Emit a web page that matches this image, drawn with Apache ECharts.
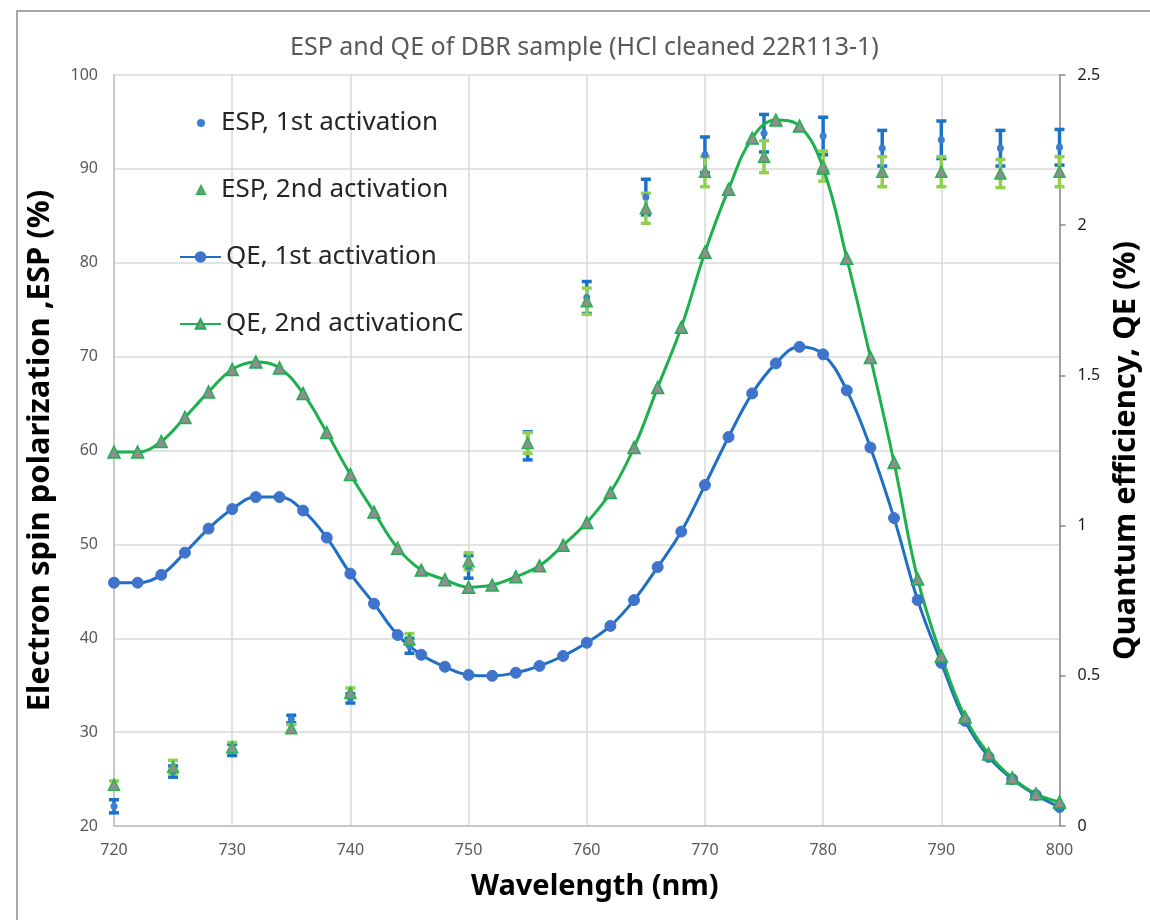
<!DOCTYPE html>
<html>
<head>
<meta charset="utf-8">
<script src="https://cdn.jsdelivr.net/npm/echarts@6/dist/echarts.min.js"></script>
<style>html,body{margin:0;padding:0;background:#fff}#c{width:1150px;height:920px}</style>
</head>
<body>
<div id="c"></div>
<script>
// ESP wavelengths (nm)
var espWl = [720, 725, 730, 735, 740, 745, 750, 755, 760, 765, 770, 775, 780, 785, 790, 795, 800];
var esp1 = [22.1, 25.8, 28.1, 31.4, 33.6, 39.2, 47.6, 60.5, 76.3, 87.0, 91.5, 93.8, 93.5, 92.2, 93.1, 92.2, 92.3];
var esp1Err = [0.7, 0.6, 0.6, 0.4, 0.5, 0.8, 1.2, 1.5, 1.7, 1.9, 1.9, 2.0, 2.0, 1.9, 2.0, 1.9, 1.9];
var esp2 = [24.4, 26.3, 28.4, 30.4, 34.2, 39.9, 48.2, 60.8, 75.9, 85.8, 89.7, 91.3, 90.3, 89.7, 89.7, 89.5, 89.7];
var esp2Err = [0.4, 0.7, 0.5, 0.4, 0.5, 0.6, 0.9, 1.1, 1.4, 1.6, 1.6, 1.7, 1.6, 1.6, 1.6, 1.5, 1.6];
// QE wavelengths (nm)
var qeWl = [720,722,724,726,728,730,732,734,736,738,740,742,744,746,748,750,752,754,756,758,760,762,764,766,768,770,772,774,776,778,780,782,784,786,788,790,792,794,796,798,800];
var qe1 = [0.81,0.81,0.836,0.91,0.99,1.055,1.095,1.095,1.05,0.96,0.84,0.74,0.636,0.57,0.53,0.503,0.50,0.51,0.533,0.566,0.61,0.666,0.752,0.862,0.98,1.135,1.295,1.44,1.54,1.595,1.57,1.45,1.26,1.025,0.752,0.543,0.35,0.23,0.156,0.103,0.063];
var qe2 = [1.245,1.245,1.28,1.36,1.445,1.52,1.545,1.525,1.44,1.31,1.17,1.045,0.925,0.852,0.82,0.795,0.802,0.83,0.866,0.935,1.01,1.11,1.26,1.46,1.66,1.91,2.12,2.29,2.35,2.33,2.19,1.89,1.56,1.21,0.822,0.566,0.363,0.24,0.16,0.107,0.08];

var names = ['ESP, 1st activation', 'ESP, 2nd activation', 'QE, 1st activation', 'QE, 2nd activationC'];
var titleText = 'ESP and QE of DBR sample (HCl cleaned 22R113-1)';

function pairs(xs, ys) { return xs.map(function (x, i) { return [x, ys[i]]; }); }
function errData(xs, ys, es) { return xs.map(function (x, i) { return [x, ys[i] - es[i], ys[i] + es[i]]; }); }
function errRender(color) {
  return function (params, api) {
    var x = api.value(0);
    var lo = api.coord([x, api.value(1)]);
    var hi = api.coord([x, api.value(2)]);
    var hw = 5;
    var st = { stroke: color, lineWidth: 3.5 };
    return {
      type: 'group',
      children: [
        { type: 'line', shape: { x1: lo[0], y1: lo[1], x2: hi[0], y2: hi[1] }, style: st },
        { type: 'line', shape: { x1: lo[0] - hw, y1: lo[1], x2: lo[0] + hw, y2: lo[1] }, style: st },
        { type: 'line', shape: { x1: hi[0] - hw, y1: hi[1], x2: hi[0] + hw, y2: hi[1] }, style: st }
      ]
    };
  };
}

var FONT = 'Noto Sans';
var chart = echarts.init(document.getElementById('c'));
chart.setOption({
  animation: false,
  backgroundColor: '#fff',
  textStyle: { fontFamily: FONT },
  title: {
    text: titleText, left: 285, top: 30,
    textStyle: { fontFamily: FONT, fontSize: 25, fontWeight: 'normal', color: '#595959' }
  },
  graphic: [{
    type: 'rect', z: -1, silent: true,
    shape: { x: 17, y: 11, width: 1300, height: 1000 },
    style: { fill: 'none', stroke: '#8c8c8c', lineWidth: 1.5 }
  }],
  legend: [{
    orient: 'vertical', left: 191, top: 104, itemWidth: 8, itemHeight: 8, itemGap: 39,
    data: [names[0], names[1]],
    textStyle: { fontFamily: FONT, fontSize: 26, color: '#262626', lineHeight: 28, padding: [0, 0, 0, 11] }
  }, {
    orient: 'vertical', left: 174, top: 238, itemWidth: 41, itemHeight: 12, itemGap: 39,
    data: [names[2], names[3]],
    textStyle: { fontFamily: FONT, fontSize: 26, color: '#262626', lineHeight: 28 }
  }],
  grid: { left: 114, right: 87, top: 75, bottom: 94 },
  xAxis: {
    type: 'value', min: 720, max: 800, interval: 10,
    name: 'Wavelength (nm)', nameLocation: 'middle', nameGap: 46,
    nameTextStyle: { fontFamily: FONT, fontSize: 29, fontWeight: 'bold', color: '#000', padding: [0, 0, 0, 16] },
    axisLine: { show: true, lineStyle: { color: '#bfbfbf', width: 1.5 } },
    axisTick: { show: false },
    axisLabel: { fontFamily: FONT, fontSize: 16, color: '#595959', margin: 16 },
    splitLine: { show: true, lineStyle: { color: '#d9d9d9', width: 1.5 } }
  },
  yAxis: [{
    type: 'value', min: 20, max: 100, interval: 10, position: 'left',
    name: 'Electron spin polarization ,ESP (%)', nameLocation: 'middle', nameGap: 58, nameRotate: 90,
    nameTextStyle: { fontFamily: FONT, fontSize: 31, fontWeight: 'bold', color: '#000' },
    axisLine: { show: true, lineStyle: { color: '#bfbfbf', width: 1.5 } },
    axisTick: { show: false },
    axisLabel: { fontFamily: FONT, fontSize: 16, color: '#595959', margin: 16 },
    splitLine: { show: true, lineStyle: { color: '#d9d9d9', width: 1.5 } }
  }, {
    type: 'value', min: 0, max: 2.5, interval: 0.5, position: 'right',
    name: 'Quantum efficiency, QE (%)', nameLocation: 'middle', nameGap: 50, nameRotate: 90,
    nameTextStyle: { fontFamily: FONT, fontSize: 31, fontWeight: 'bold', color: '#000' },
    axisLine: { show: true, lineStyle: { color: '#8c8c8c', width: 1.5 } },
    axisTick: { show: true, length: 6, lineStyle: { color: '#8c8c8c', width: 1.5 } },
    axisLabel: { fontFamily: FONT, fontSize: 16, color: '#1a1a1a', margin: 18 },
    splitLine: { show: false }
  }],
  series: [{
    type: 'custom', name: 'err1', yAxisIndex: 0, z: 2,
    renderItem: errRender('#1a72c8'),
    encode: { x: 0, y: [1, 2] },
    data: errData(espWl, esp1, esp1Err)
  }, {
    type: 'custom', name: 'err2', yAxisIndex: 0, z: 2,
    renderItem: errRender('#92d050'),
    encode: { x: 0, y: [1, 2] },
    data: errData(espWl, esp2, esp2Err)
  }, {
    type: 'line', name: names[2], yAxisIndex: 1, z: 3, smooth: 0.4,
    symbol: 'circle', symbolSize: 11,
    lineStyle: { color: '#1f6fc5', width: 3 },
    itemStyle: { color: '#3f74cc', borderColor: '#3f74cc', borderWidth: 1 },
    data: pairs(qeWl, qe1)
  }, {
    type: 'line', name: names[3], yAxisIndex: 1, z: 3, smooth: 0.4,
    symbol: 'triangle', symbolSize: 12,
    lineStyle: { color: '#1db04f', width: 3 },
    itemStyle: { color: '#8e8e8e', borderColor: '#1db04f', borderWidth: 1.5 },
    data: pairs(qeWl, qe2)
  }, {
    type: 'scatter', name: names[0], yAxisIndex: 0, z: 4,
    symbol: 'circle', symbolSize: 7,
    itemStyle: { color: '#3a7fd0', opacity: 1 },
    data: pairs(espWl, esp1)
  }, {
    type: 'scatter', name: names[1], yAxisIndex: 0, z: 4,
    symbol: 'triangle', symbolSize: 11,
    itemStyle: { color: '#8e8e8e', borderColor: '#2fb450', borderWidth: 1.5, opacity: 1 },
    data: pairs(espWl, esp2)
  }]
});
</script>
</body>
</html>
